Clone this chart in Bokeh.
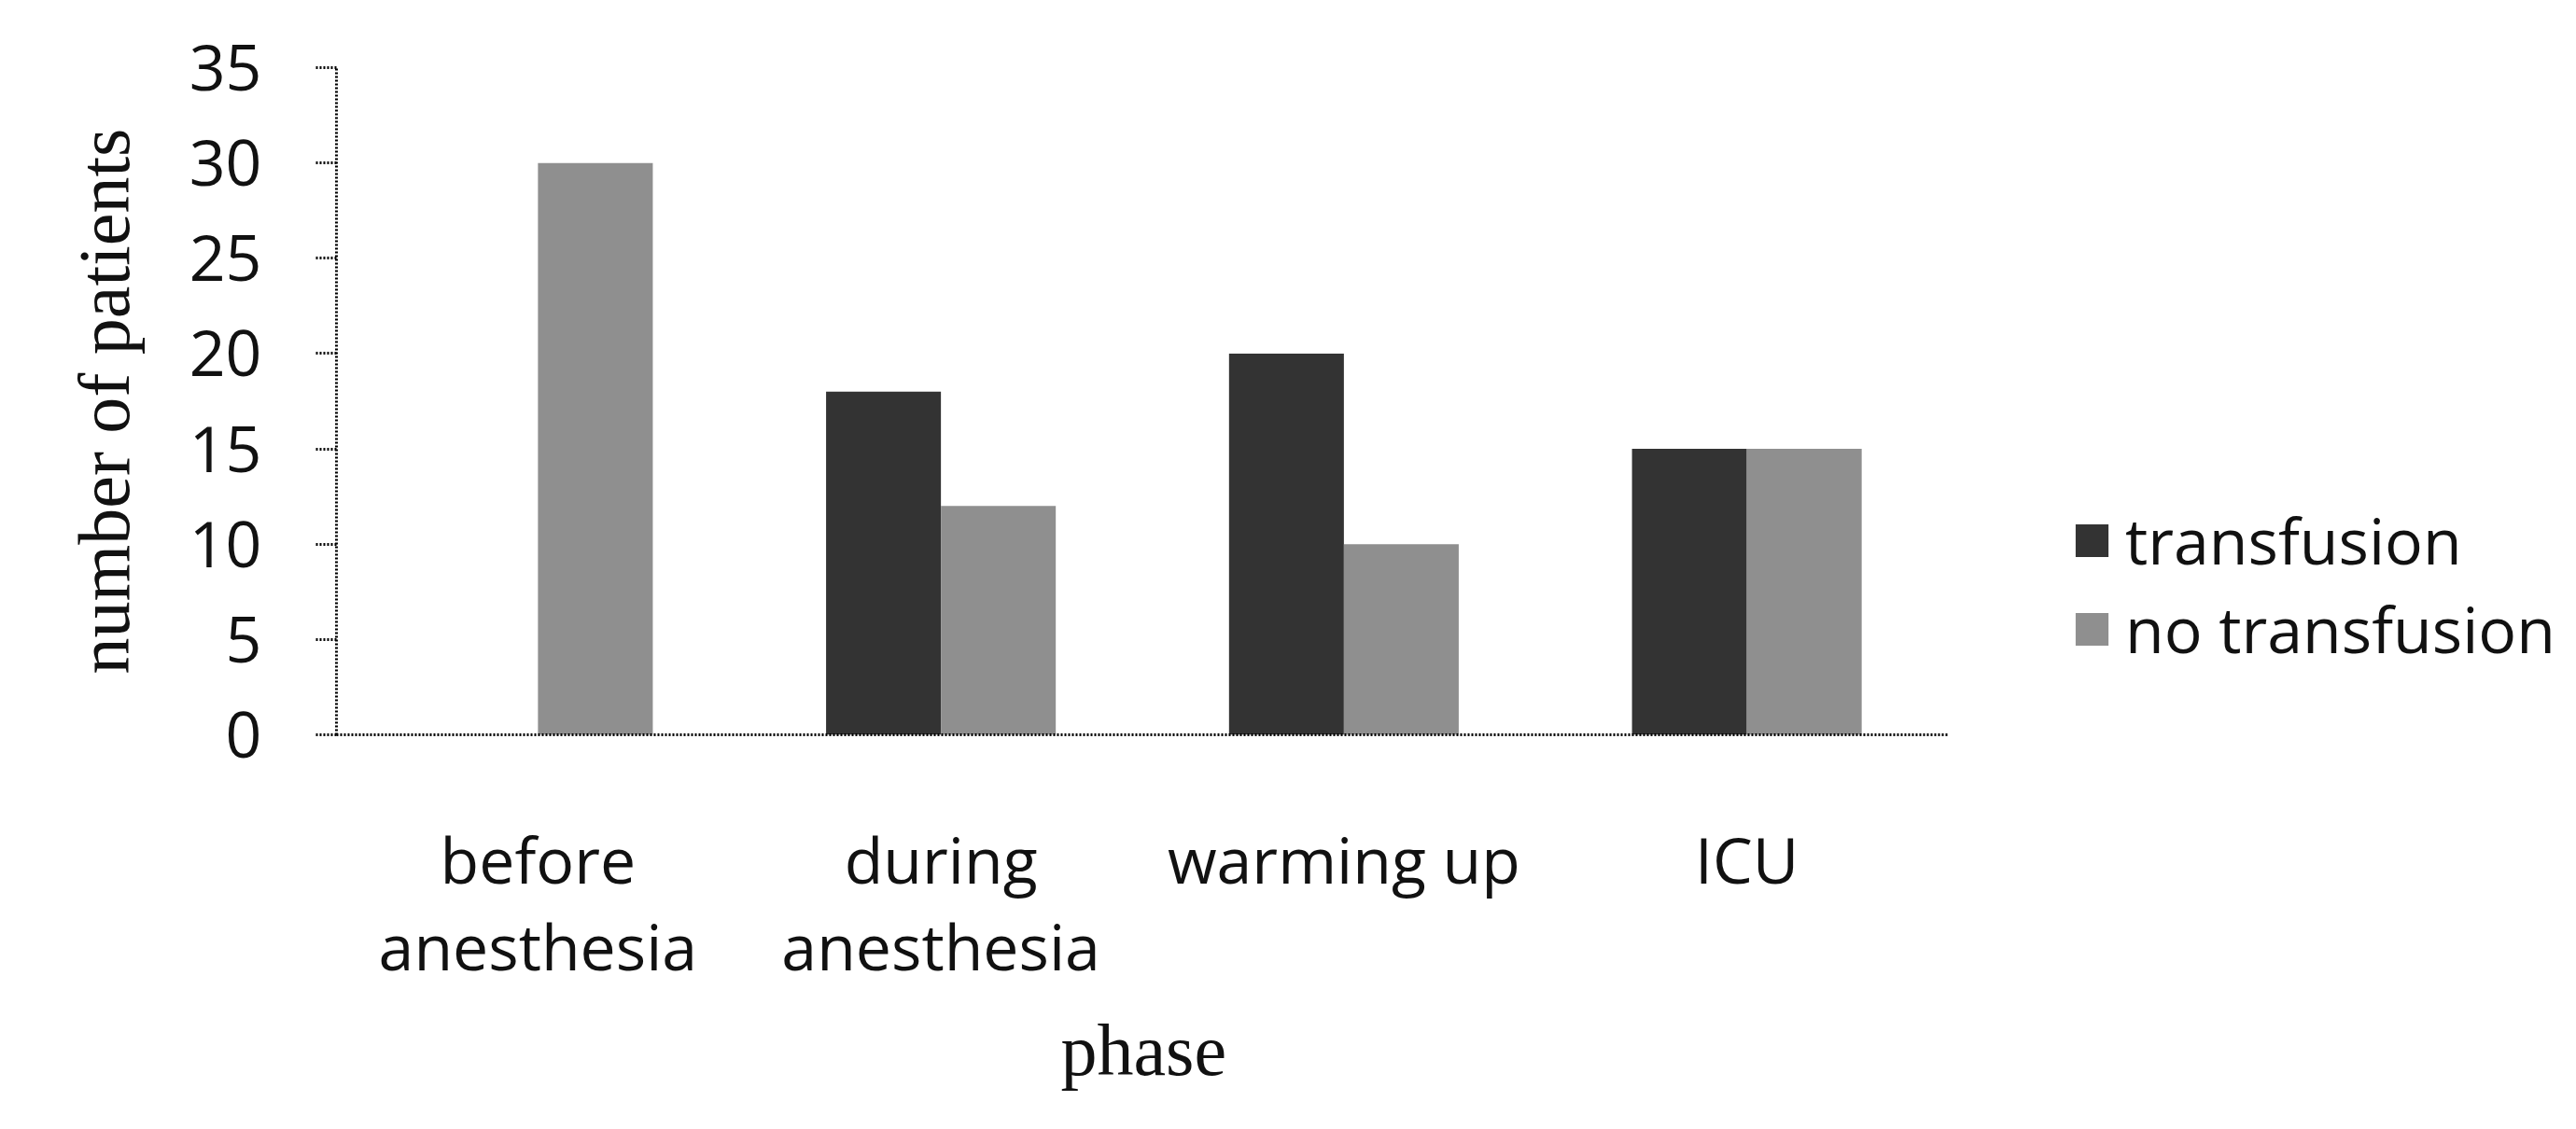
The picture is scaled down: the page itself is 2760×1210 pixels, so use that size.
from bokeh.plotting import figure
from bokeh.models import ColumnDataSource, Range1d, FixedTicker, Legend, LegendItem, Title
from bokeh.transform import dodge
from bokeh.embed import file_html
from bokeh.resources import INLINE

phases = ["before\nanesthesia", "during\nanesthesia", "warming up", "ICU"]
transfusion = [0, 18, 20, 15]
no_transfusion = [30, 12, 10, 15]
y_ticks = [0, 5, 10, 15, 20, 25, 30, 35]

n = len(phases)
centers = [i + 0.5 for i in range(n)]
src = ColumnDataSource(dict(x=centers, t=transfusion, nt=no_transfusion))

W, H = 2744, 1194
L, R = 360, 0
frame_w = W - L - R
axis_px = 1727  # width of the category axis in px
x_end = n * frame_w / axis_px

p = figure(width=W, height=H, x_range=Range1d(0, x_end),
           y_range=Range1d(0, 35), output_backend="svg", toolbar_location=None,
           min_border_left=L, min_border_right=R, min_border_top=72, min_border_bottom=407)
p.outline_line_color = None
p.xgrid.grid_line_color = None
p.ygrid.grid_line_color = None

bw = 0.285
r1 = p.vbar(x=dodge("x", -bw / 2), top="t", width=bw, source=src,
            fill_color="#333333", line_color=None)
r2 = p.vbar(x=dodge("x", bw / 2), top="nt", width=bw, source=src,
            fill_color="#8f8f8f", line_color=None)

tick_font = "Open Sans"
fs = "68px"
p.yaxis.ticker = FixedTicker(ticks=y_ticks)
p.yaxis.minor_tick_line_color = None
p.yaxis.major_tick_in = 0
p.yaxis.major_tick_out = 22
p.yaxis.major_tick_line_dash = "2 2"
p.yaxis.major_tick_line_width = 3
p.yaxis.axis_line_dash = "2 2"
p.yaxis.axis_line_width = 3
p.yaxis.major_label_text_font = tick_font
p.yaxis.major_label_text_font_size = fs
p.yaxis.major_label_text_color = "#111111"
p.yaxis.major_label_standoff = 58
p.yaxis.axis_label = "number of patients"
p.yaxis.axis_label_text_font = "Liberation Serif"
p.yaxis.axis_label_text_font_style = "normal"
p.yaxis.axis_label_text_color = "#111111"
p.yaxis.axis_label_text_font_size = "78px"
p.yaxis.axis_label_standoff = 45

p.xaxis.bounds = (0, n)
p.xaxis.ticker = FixedTicker(ticks=centers)
p.xaxis.major_label_overrides = {c: lab for c, lab in zip(centers, phases)}
p.xaxis.major_tick_line_color = None
p.xaxis.minor_tick_line_color = None
p.xaxis.axis_line_dash = "2 2"
p.xaxis.axis_line_width = 3
p.xaxis.major_label_text_font = tick_font
p.xaxis.major_label_text_font_size = fs
p.xaxis.major_label_text_color = "#111111"
p.xaxis.major_label_text_line_height = 1.0
p.xaxis.major_label_standoff = 80

# x-axis title, placed under the middle of the category axis
xlabel = Title(text="phase", align="left", offset=776,
               text_font="Liberation Serif", text_font_style="normal",
               text_font_size="78px", text_color="#111111", standoff=34)
p.add_layout(xlabel, "below")

legend = Legend(items=[LegendItem(label="transfusion", renderers=[r1]),
                       LegendItem(label="no transfusion", renderers=[r2])],
                location=(1859, 67), orientation="vertical",
                padding=0, margin=0, spacing=2,
                glyph_width=44, glyph_height=44, label_standoff=14,
                label_text_font=tick_font, label_text_font_size=fs,
                label_text_color="#111111",
                border_line_alpha=0, background_fill_alpha=0)
p.add_layout(legend, "center")

open("out.html", "w").write(file_html(p, INLINE))
